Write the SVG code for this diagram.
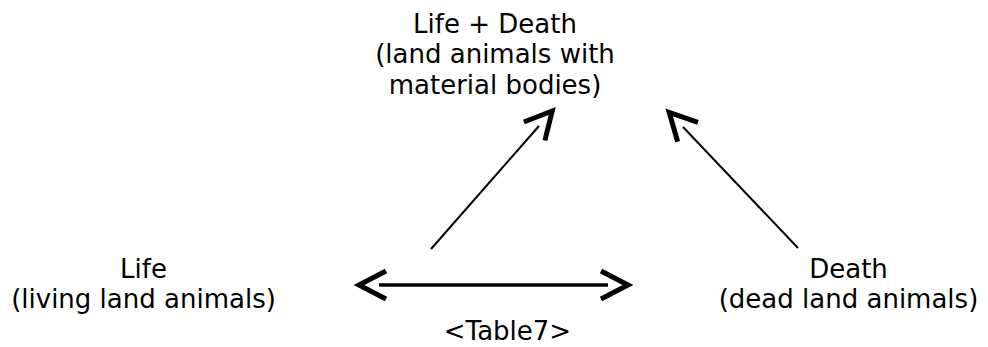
<svg xmlns="http://www.w3.org/2000/svg" width="988" height="347" viewBox="0 0 988 347">
  <style>
    .lbl { font-family: "DejaVu Sans", sans-serif; font-size: 26px; fill: #000; text-anchor: middle; }
    .edge { stroke: #000; fill: none; }
  </style>
  <defs>
    <marker id="chev" markerUnits="userSpaceOnUse" markerWidth="60" markerHeight="60" refX="0" refY="0" orient="auto-start-reverse" overflow="visible">
      <path d="M-7,-14 L20,0 L-7,14" fill="none" stroke="#000" stroke-width="5" stroke-linejoin="miter" stroke-linecap="butt"/>
    </marker>
  </defs>
  <rect width="988" height="347" fill="#fff"/>
  <g id="node-top">
    <text class="lbl" x="495" y="33">Life + Death</text>
    <text class="lbl" x="495" y="63">(land animals with</text>
    <text class="lbl" x="495" y="94">material bodies)</text>
  </g>
  <g id="node-life">
    <text class="lbl" x="143.5" y="278">Life</text>
    <text class="lbl" x="143.5" y="308">(living land animals)</text>
  </g>
  <g id="node-death">
    <text class="lbl" x="848.5" y="278">Death</text>
    <text class="lbl" x="848.5" y="308">(dead land animals)</text>
  </g>
  <g id="connectors">
    <line class="edge" x1="379" y1="285" x2="608" y2="285" stroke-width="3.5" marker-start="url(#chev)" marker-end="url(#chev)"/>
    <line class="edge" x1="431" y1="249" x2="539" y2="126" stroke-width="2" marker-end="url(#chev)"/>
    <line class="edge" x1="798" y1="248" x2="683" y2="127" stroke-width="2" marker-end="url(#chev)"/>
    <text class="lbl" x="507.5" y="340">&lt;Table7&gt;</text>
  </g>
</svg>
